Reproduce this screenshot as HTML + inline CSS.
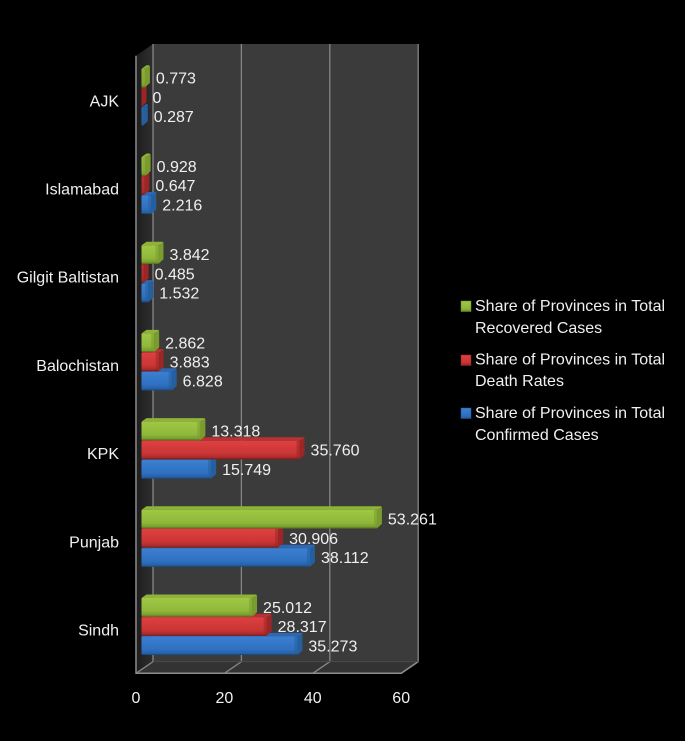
<!DOCTYPE html>
<html lang="en">
<head>
<meta charset="utf-8">
<title>Share of Provinces</title>
<style>
html,body{margin:0;padding:0;background:#000;width:685px;height:741px;overflow:hidden}
svg{display:block}
text{font-family:"Liberation Sans",sans-serif;font-size:16px;fill:#f0f0f0}
</style>
</head>
<body>
<svg id="chart" width="685" height="741" viewBox="0 0 685 741" xmlns="http://www.w3.org/2000/svg">
<defs>
<linearGradient id="g-green" x1="0" y1="0" x2="0" y2="1"><stop offset="0" stop-color="#a0c845"/><stop offset="0.7" stop-color="#8fb73a"/><stop offset="1" stop-color="#6f9229"/></linearGradient>
<linearGradient id="g-red" x1="0" y1="0" x2="0" y2="1"><stop offset="0" stop-color="#e04040"/><stop offset="0.7" stop-color="#c93535"/><stop offset="1" stop-color="#9a2525"/></linearGradient>
<linearGradient id="g-blue" x1="0" y1="0" x2="0" y2="1"><stop offset="0" stop-color="#3c80d2"/><stop offset="0.7" stop-color="#2f70c0"/><stop offset="1" stop-color="#235a9c"/></linearGradient>
<linearGradient id="g-wall" x1="0" y1="0" x2="1" y2="0"><stop offset="0" stop-color="#1e1e1e"/><stop offset="1" stop-color="#2e2e2e"/></linearGradient>
</defs>
<g id="plot"></g>
<g id="legend">
  <g>
    <rect x="461" y="301" width="10" height="10.5" fill="url(#g-green)" stroke="#6f9229" stroke-width="0.5"/>
    <text x="475" y="311">Share of Provinces in Total</text>
    <text x="475" y="333">Recovered Cases</text>
  </g>
  <g>
    <rect x="461" y="355" width="10" height="10.5" fill="url(#g-red)" stroke="#9a2525" stroke-width="0.5"/>
    <text x="475" y="364.5">Share of Provinces in Total</text>
    <text x="475" y="386">Death Rates</text>
  </g>
  <g>
    <rect x="461" y="408" width="10" height="10.5" fill="url(#g-blue)" stroke="#235a9c" stroke-width="0.5"/>
    <text x="475" y="418">Share of Provinces in Total</text>
    <text x="475" y="440">Confirmed Cases</text>
  </g>
</g>
</svg>
<script>
const categories = ["Sindh", "Punjab", "KPK", "Balochistan", "Gilgit Baltistan", "Islamabad", "AJK"];
const confirmedCases = [35.273, 38.112, 15.749, 6.828, 1.532, 2.216, 0.287];
const deathRates = [28.317, 30.906, 35.760, 3.883, 0.485, 0.647, 0];
const recoveredCases = [25.012, 53.261, 13.318, 2.862, 3.842, 0.928, 0.773];
const xTickValues = [0, 20, 40, 60];

const NS = "http://www.w3.org/2000/svg";
const plot = document.getElementById("plot");

function make(tag, attrs, parent) {
  const el = document.createElementNS(NS, tag);
  for (const k in attrs) el.setAttribute(k, attrs[k]);
  (parent || plot).appendChild(el);
  return el;
}

const SCALE = 4.42;
const DEPTH_X = 17, DEPTH_Y = 11.7;
const FRONT_LEFT = 136, FRONT_BOTTOM = 673.3, TOP_BACK = 44;
const barX = v => 141.5 + v * SCALE;
const axisFrontX = v => FRONT_LEFT + v * SCALE;
const groupBottom = i => 655 - i * 88.2;
const BAR_H = 19.2, BAR_DX = 5, BAR_DY = 3.5, BEVEL = 3;

/* walls and floor */
const backLeft = FRONT_LEFT + DEPTH_X;
const backRight = axisFrontX(60) + DEPTH_X;
const backBottom = FRONT_BOTTOM - DEPTH_Y;

let wall = make("rect", {x: backLeft, y: TOP_BACK, width: backRight - backLeft, height: backBottom - TOP_BACK, fill: "#3b3b3b"});



let side = make("polygon", {points: `${FRONT_LEFT},${TOP_BACK + DEPTH_Y} ${backLeft},${TOP_BACK} ${backLeft},${backBottom} ${FRONT_LEFT},${FRONT_BOTTOM}`, fill: "url(#g-wall)"});



let floor = make("polygon", {points: `${FRONT_LEFT},${FRONT_BOTTOM} ${backLeft},${backBottom} ${backRight},${backBottom} ${axisFrontX(60)},${FRONT_BOTTOM}`, fill: "#333333"});



/* gridlines */
xTickValues.forEach(t => {
  const fx = axisFrontX(t), bx = fx + DEPTH_X;
  let g = make("polyline", {points: `${fx},${FRONT_BOTTOM} ${bx},${backBottom} ${bx},${TOP_BACK}`, fill: "none", stroke: "#868686", "stroke-width": 1.3});
  
  
  let label = make("text", {x: fx, y: 703, "text-anchor": "middle"});
  
  
  label.textContent = t;
});

let edgeFront = make("polyline", {points: `${FRONT_LEFT},${TOP_BACK + DEPTH_Y} ${FRONT_LEFT},${FRONT_BOTTOM} ${axisFrontX(60)},${FRONT_BOTTOM} ${backRight},${backBottom}`, fill: "none", stroke: "#8c8c8c", "stroke-width": 1.5});



let edgeBack = make("line", {x1: backLeft, y1: backBottom, x2: backRight, y2: backBottom, stroke: "#4a4a4a", "stroke-width": 1});



/* bars: drawn blue, red, green so upper bars sit on the lower bars' tops */
const seriesList = [
  {key: "confirmed", values: confirmedCases, slot: 0, grad: "url(#g-blue)", top: "#2d68b4", end: "#24609f", edge: "#1c4a84"},
  {key: "death", values: deathRates, slot: 1, grad: "url(#g-red)", top: "#b83232", end: "#9c2626", edge: "#7e1c1c"},
  {key: "recovered", values: recoveredCases, slot: 2, grad: "url(#g-green)", top: "#8db338", end: "#7a9c2e", edge: "#5b7a22"}
];

const labelLayer = [];
categories.forEach((cat, i) => {
  seriesList.forEach(s => {
    const v = s.values[i];
    const bottom = groupBottom(i) - s.slot * BAR_H;
    const top = bottom - BAR_H + 0.6;
    const x0 = barX(0), x1 = barX(v);
    const bar = make("g", {});
    
    
    make("polygon", {points: `${x0},${top} ${x0 + BAR_DX},${top - BAR_DY} ${x1 + BAR_DX - 1},${top - BAR_DY} ${x1 + BAR_DX},${top - BAR_DY + 1} ${x1},${top}`, fill: s.top}, bar);
    make("polygon", {points: `${x1},${top} ${x1 + BAR_DX},${top - BAR_DY + 1} ${x1 + BAR_DX},${bottom - BAR_DY - 1} ${x1},${bottom}`, fill: s.end}, bar);
    if (v > 0) {
      make("rect", {x: x0, y: top, width: x1 - x0, height: bottom - top, fill: s.grad, rx: 0.8}, bar);
      make("rect", {x: Math.max(x0, x1 - BEVEL), y: top, width: Math.min(BEVEL, x1 - x0), height: bottom - top, fill: s.end, opacity: 0.55}, bar);
      make("line", {x1: x0, y1: bottom - 0.5, x2: x1, y2: bottom - 0.5, stroke: s.edge, "stroke-width": 1}, bar);
    }
    labelLayer.push({x: x1 + 11, y: (top + bottom) / 2 + 5.6, v: v, key: s.key, cat: cat});
  });
  let catLabel = make("text", {x: 119, y: groupBottom(i) - 19.5, "text-anchor": "end"});
  
  
  catLabel.textContent = cat;
});

labelLayer.forEach(d => {
  let t = make("text", {x: d.x, y: d.y});
  
  
  t.textContent = d.v === 0 ? "0" : d.v.toFixed(3);
});
</script>
</body>
</html>
